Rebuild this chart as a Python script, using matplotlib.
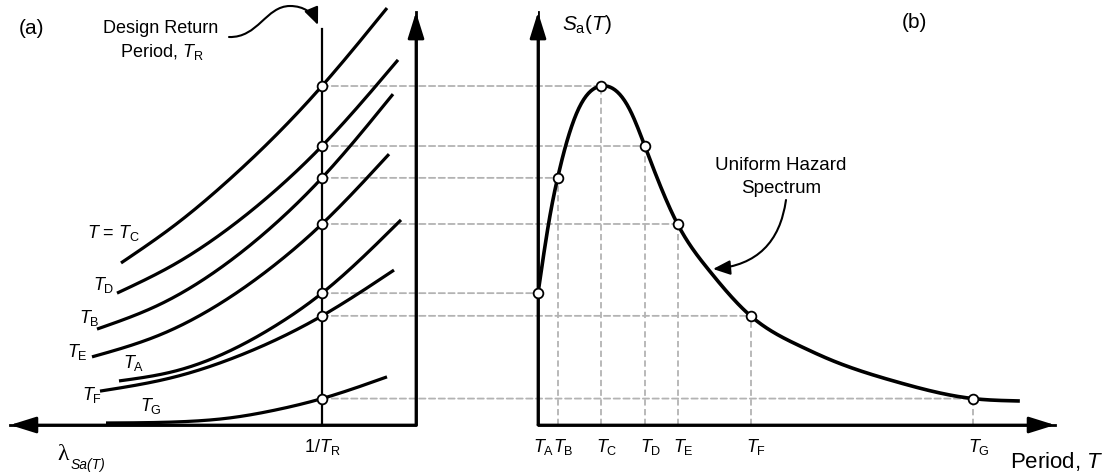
import numpy as np
import matplotlib
matplotlib.use("Agg")
import matplotlib.pyplot as plt
from matplotlib.patches import ConnectionPatch, FancyArrowPatch
from matplotlib.path import Path
from matplotlib.transforms import Affine2D

plt.rcParams['font.family'] = ['Liberation Sans', 'DejaVu Sans']
plt.rcParams['mathtext.fontset'] = 'custom'
plt.rcParams['mathtext.rm'] = 'Liberation Sans'
plt.rcParams['mathtext.it'] = 'Liberation Sans:italic'
plt.rcParams['mathtext.bf'] = 'Liberation Sans:bold'
plt.rcParams['lines.scale_dashes'] = False

# ---- data -------------------------------------------------------------
period_names = ['A', 'B', 'C', 'D', 'E', 'F', 'G']
periods = [0.0, 0.18, 0.58, 0.98, 1.28, 1.95, 3.99]          # T_A .. T_G (s)
sa_uhs = [0.389, 0.729, 1.0, 0.823, 0.593, 0.322, 0.078]      # Sa at 1/T_R

# uniform hazard spectrum trace
uhs_T = [0.0, 0.119, 0.18, 0.367, 0.58, 0.844, 0.98, 1.28,
         1.56, 1.95, 2.404, 2.679, 3.294, 3.99, 4.404]
uhs_sa = [0.389, 0.634, 0.729, 0.929, 1.0, 0.929, 0.823, 0.593,
          0.46, 0.322, 0.233, 0.193, 0.127, 0.078, 0.071]

# hazard curves, x = log10(annual rate of exceedance)
log_rate_design = -3.40      # 1/T_R
rate_C = [-1.39, -1.93, -2.48, -2.93, -3.40, -4.05]
sa_C = [0.478, 0.590, 0.726, 0.852, 1.000, 1.230]
rate_D = [-1.35, -1.93, -2.48, -2.93, -3.40, -4.16]
sa_D = [0.389, 0.475, 0.583, 0.691, 0.823, 1.077]
rate_B = [-1.15, -1.78, -2.48, -2.93, -3.40, -4.11]
sa_B = [0.283, 0.356, 0.484, 0.593, 0.729, 0.976]
rate_E = [-1.10, -1.78, -2.48, -2.93, -3.40, -4.07]
sa_E = [0.201, 0.266, 0.377, 0.473, 0.593, 0.799]
rate_A = [-1.37, -1.93, -2.48, -2.93, -3.40, -4.19]
sa_A = [0.130, 0.159, 0.219, 0.292, 0.389, 0.605]
rate_F = [-1.18, -1.93, -2.48, -2.93, -3.40, -4.12]
sa_F = [0.100, 0.142, 0.194, 0.250, 0.322, 0.457]
rate_G = [-1.24, -1.93, -2.48, -2.93, -3.40, -4.05]
sa_G = [0.006, 0.009, 0.021, 0.044, 0.078, 0.142]


def smooth(x, y, n=400):
    # natural cubic spline through the read points
    x = np.asarray(x, float)
    y = np.asarray(y, float)
    o = np.argsort(x)
    x, y = x[o], y[o]
    h = np.diff(x)
    k = len(x)
    A = np.zeros((k, k))
    r = np.zeros(k)
    A[0, 0] = A[-1, -1] = 1
    for i in range(1, k - 1):
        A[i, i - 1] = h[i - 1]
        A[i, i] = 2 * (h[i - 1] + h[i])
        A[i, i + 1] = h[i]
        r[i] = 6 * ((y[i + 1] - y[i]) / h[i] - (y[i] - y[i - 1]) / h[i - 1])
    M = np.linalg.solve(A, r)
    xs = np.linspace(x[0], x[-1], n)
    i = np.clip(np.searchsorted(x, xs) - 1, 0, k - 2)
    a, b, hi = x[i + 1] - xs, xs - x[i], h[i]
    ys = (M[i] * a**3 / (6 * hi) + M[i + 1] * b**3 / (6 * hi)
          + (y[i] / hi - M[i] * hi / 6) * a + (y[i + 1] / hi - M[i + 1] * hi / 6) * b)
    return xs, ys


W, H = 1106, 476
fig = plt.figure(figsize=(W / 100, H / 100), dpi=100)
pix = Affine2D().scale(1 / W, -1 / H).translate(0, 1) + fig.transFigure

axL = fig.add_axes([0, 0, 538 / W, 1])
axR = fig.add_axes([538 / W, 0, 1 - 538 / W, 1])
for ax in (axL, axR):
    ax.set_ylim(-0.1504, 1.2537)
    ax.axis('off')
    ax.patch.set_visible(False)
axL.set_xlim(-0.18, -5.56)
axR.set_xlim(0, 5.211)

dash = (0, (4.5, 2.5))
grey = '#b3b3b3'
circ = dict(ls='none', marker='o', ms=7, mfc='white', mec='black', mew=1.3,
            zorder=5, clip_on=False)
head = dict(arrowstyle='-|>,head_length=1.6,head_width=0.5', mutation_scale=10,
            lw=2, color='black', shrinkA=0, shrinkB=0)

# ---- (a) hazard curves ------------------------------------------------
hazard = [(rate_C, sa_C), (rate_D, sa_D), (rate_B, sa_B), (rate_E, sa_E),
          (rate_A, sa_A), (rate_F, sa_F), (rate_G, sa_G)]
for r, s in hazard:
    xs, ys = smooth(r, s)
    axL.plot(xs, ys, color='black', lw=2.3, solid_capstyle='butt', zorder=2)

L_axis, L_tip, sa_tip = -4.34, -0.28, 1.218
axL.plot([L_tip, L_axis, L_axis], [0, 0, sa_tip], color='black', lw=2, zorder=3)
axL.annotate('', xy=(L_tip, 0), xytext=(L_axis, 0), arrowprops=head, annotation_clip=False)
axL.annotate('', xy=(L_axis, sa_tip), xytext=(L_axis, 0), arrowprops=head, annotation_clip=False)
axL.plot([log_rate_design] * 2, [0, 1.168], color='black', lw=1.6, zorder=3)
axL.plot([log_rate_design] * len(sa_uhs), sa_uhs, **circ)

# ---- (b) uniform hazard spectrum -------------------------------------
xs, ys = smooth(uhs_T, uhs_sa)
axR.plot(xs, ys, color='black', lw=2.6, zorder=2)
T_tip = 4.743
axR.plot([T_tip, 0, 0], [0, 0, sa_tip], color='black', lw=2, zorder=3)
axR.annotate('', xy=(T_tip, 0), xytext=(0, 0), arrowprops=head, annotation_clip=False)
axR.annotate('', xy=(0, sa_tip), xytext=(0, 0), arrowprops=head, annotation_clip=False)
axR.plot(periods, sa_uhs, **circ)

for name, T, sa in zip(period_names, periods, sa_uhs):
    con = ConnectionPatch(xyA=(log_rate_design, sa), coordsA=axL.transData,
                          xyB=(T, sa), coordsB=axR.transData,
                          color=grey, lw=1.3, linestyle=dash, zorder=-1)
    fig.add_artist(con)
    if T > 0:
        axR.plot([T, T], [0, sa], color=grey, lw=1.3, ls=dash, zorder=1)
    axR.annotate(r'$T_\mathrm{%s}$' % name, xy=(T, 0), xytext=(-3.6, -19.4),
                 textcoords='offset points', ha='left', va='baseline', fontsize=13)

axL.annotate(r'1/$T_\mathrm{R}$', xy=(log_rate_design, 0), xytext=(0, -19.4),
             textcoords='offset points', ha='center', va='baseline', fontsize=13)

# ---- text -------------------------------------------------------------
fig.text(31, 28, '(a)', transform=pix, ha='center', va='center', fontsize=15)
fig.text(914, 23, '(b)', transform=pix, ha='center', va='center', fontsize=15)
fig.text(161, 33, 'Design Return', transform=pix, ha='center', va='baseline', fontsize=13)
fig.text(162, 57, r'Period, $T_\mathrm{R}$', transform=pix, ha='center', va='baseline', fontsize=13)
fig.text(87, 238, r'$T$ = $T_\mathrm{C}$', transform=pix, ha='left', va='baseline', fontsize=13)
curve_labels = [('D', 93, 290), ('B', 79, 323), ('E', 67, 357), ('A', 123, 368),
                ('F', 82, 400), ('G', 140, 411)]
for name, x, y in curve_labels:
    fig.text(x, y, r'$T_\mathrm{%s}$' % name, transform=pix, ha='left', va='baseline', fontsize=13)
fig.text(57, 460, 'λ', transform=pix, ha='left', va='baseline', fontsize=17,
         family=['Liberation Serif', 'DejaVu Serif'])
fig.text(71, 469, 'Sa(T)', transform=pix, ha='left', va='baseline', fontsize=10, style='italic')
fig.text(562, 30, r'$S_\mathrm{a}(T)$', transform=pix, ha='left', va='baseline', fontsize=15)
fig.text(1104, 468, r'Period, $T$', transform=pix, ha='right', va='baseline', fontsize=16)
fig.text(781, 170, 'Uniform Hazard', transform=pix, ha='center', va='baseline', fontsize=13.5)
fig.text(781, 193, 'Spectrum', transform=pix, ha='center', va='baseline', fontsize=13.5)

# ---- pointer arrows ---------------------------------------------------
fig.add_artist(FancyArrowPatch(
    path=Path([(229, 37), (258, 38), (266, 6), (290, 6), (304, 6), (313, 13), (318, 25)],
              [Path.MOVETO] + [Path.CURVE4] * 6),
    arrowstyle='-|>,head_length=1.3,head_width=0.55', mutation_scale=8,
    lw=1.5, color='black', transform=pix))
axR.annotate('', xy=(713, 269), xytext=(786, 200), xycoords=pix, textcoords=pix,
             arrowprops=dict(arrowstyle='-|>,head_length=1.3,head_width=0.55',
                             mutation_scale=8, connectionstyle='arc3,rad=-0.4',
                             lw=1.5, color='black', shrinkA=0, shrinkB=0))

fig.savefig('out.png', dpi=100)
